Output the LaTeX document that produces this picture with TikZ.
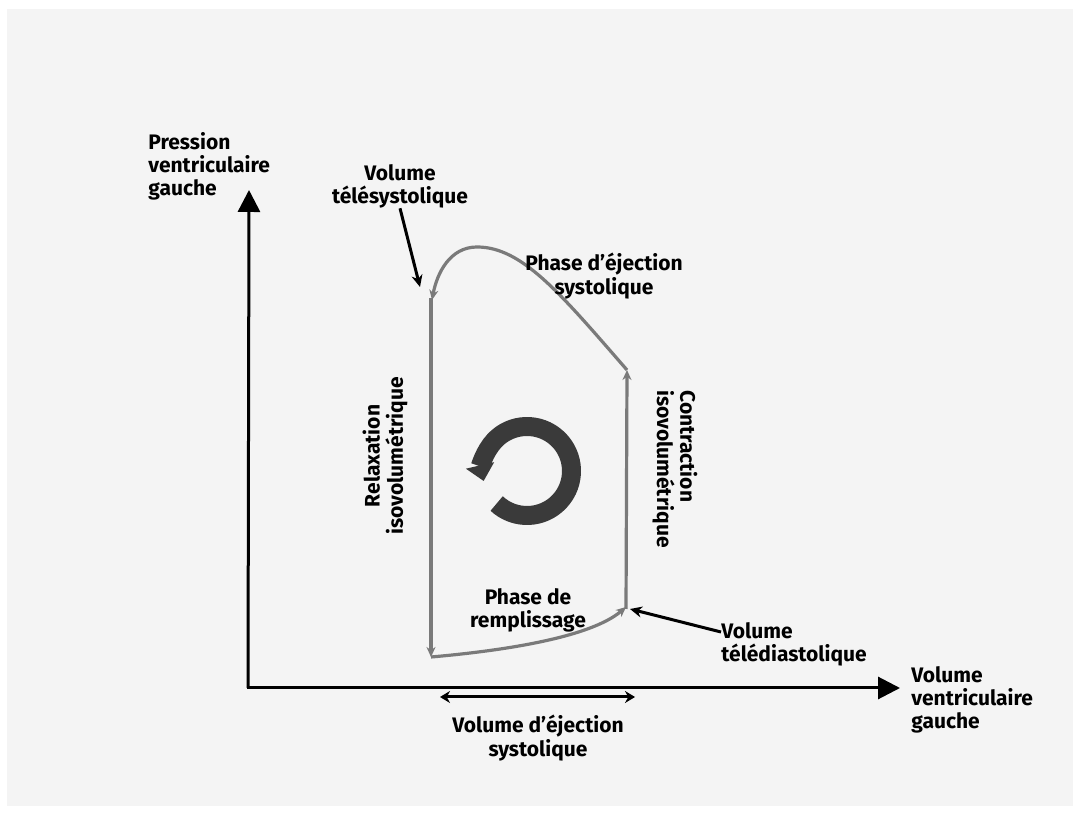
\documentclass[tikz,border=0pt]{standalone}
\usepackage{fontspec}
\setmainfont{Fira Sans}
\usetikzlibrary{arrows.meta}
\definecolor{bggray}{HTML}{F4F4F4}
\definecolor{loopgray}{HTML}{7A7A7A}
\definecolor{ringgray}{HTML}{3A3A3A}

\begin{document}
\begin{tikzpicture}[x=0.5pt, y=0.5pt,
    lbl/.style={font=\fontsize{10.5}{11.6}\selectfont\bfseries, inner sep=0pt, align=center},
    loopline/.style={draw=loopgray, line width=1.6pt, -{Stealth[length=5pt,width=4.5pt]}},
    pointer/.style={line width=1.5pt, -{Stealth[length=6pt,width=5.5pt]}},
    axis/.style={line width=1.5pt, -{Triangle[length=11pt,width=11pt]}}]

      \useasboundingbox (0,0) rectangle (1080,813);
      \fill[white] (0,0) rectangle (1080,813);
      \fill[bggray] (7,7) rectangle (1073,804);

      % axes
      \coordinate (O) at (248,125);
      \coordinate (ytip) at (249,623);
      \coordinate (xtip) at (900,125);
      \draw[axis] (O) -- (ytip);
      \draw[axis] ([xshift=-0.75pt]O) -- (xtip);
      \node[lbl, align=left, anchor=north west] (ylab) at (148,681) {Pression\\ventriculaire\\gauche};
      \node[lbl, align=left, anchor=north west] (xlab) at (911,147) {Volume\\ventriculaire\\gauche};

      % pressure-volume loop
      \coordinate (vts) at (432,513);
      \coordinate (bl) at (431,156);
      \coordinate (vtd) at (626,206);
      \coordinate (tr) at (627,443);
      \draw[loopline] (tr) .. controls (560,520) and (522,566) .. (477,566)
                           .. controls (450,566) and (437,540) .. (vts);
      \draw[loopline] (431,515) -- (bl);
      \draw[loopline] (bl) .. controls (500,162) and (590,175) .. (vtd);
      \draw[loopline] (626,204) -- (tr);

      % turning arrow
      \coordinate (ring) at (527,342);
      \draw[ringgray, line width=9.5pt, -{Triangle[length=8pt,width=14pt]}]
        (ring) ++(227:44.5) arc[start angle=227, end angle=553, radius=44.5];

      \node[lbl] (tsys) at (400,627) {Volume\\télésystolique};
      \coordinate (tsystip) at (420,526);
      \draw[pointer] (tsys.south) -- (tsystip);

      \node[lbl] (ejec) at (604,537) {Phase d’éjection\\systolique};
      \node[lbl, rotate=90] (relax) at (385,357) {Relaxation\\isovolumétrique};
      \node[lbl, rotate=-90, align=left] (contr) at (675,344) {Contraction\\isovolumétrique};
      \node[lbl] (rempl) at (528,203) {Phase de\\remplissage};

      \node[lbl, align=left, anchor=north west] (tdia) at (721,191) {Volume\\télédiastolique};
      \coordinate (tdiatip) at (630,204);
      \draw[pointer] ([yshift=-5pt]tdia.north west) -- (tdiatip);

      % stroke volume
      \coordinate (sv1) at (440,116);
      \coordinate (sv2) at (635,116);
      \draw[line width=1.5pt, {Stealth[length=5pt,width=6pt]}-{Stealth[length=5pt,width=6pt]}] (sv1) -- (sv2);
      \node[lbl] (vej) at (538,75) {Volume d’éjection\\systolique};
\end{tikzpicture}
\end{document}
